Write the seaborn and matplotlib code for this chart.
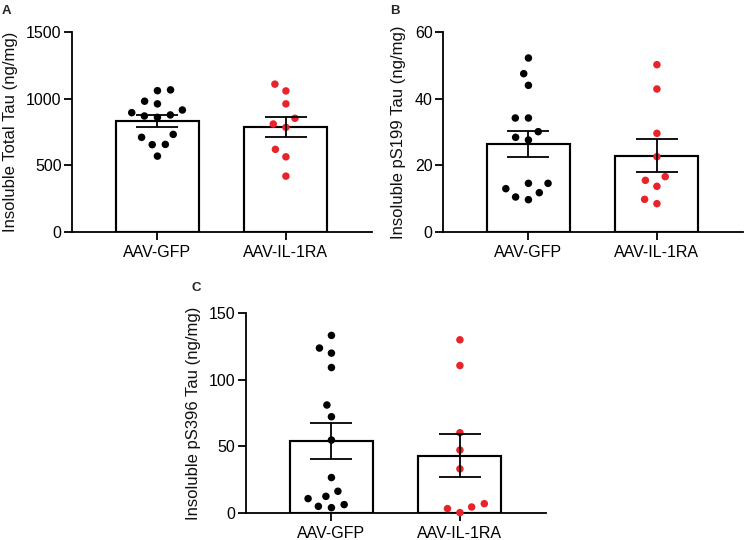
import matplotlib
matplotlib.use("Agg")
import matplotlib.pyplot as plt
import seaborn as sns
import pandas as pd

# ---------------- data ----------------
groups = ["AAV-GFP", "AAV-IL-1RA"]

total_gfp = [870, 915, 1066, 1060, 961, 981, 895, 878, 860, 710, 732, 655, 657, 569]
total_il = [1109, 1058, 961, 853, 810, 785, 620, 564, 419]
total_mean = [835, 788]
total_sem = [44, 78]

ps199_gfp = [52.2, 47.5, 44.0, 34.2, 34.2, 30.1, 28.4, 27.6, 14.6, 14.6, 13.0, 11.8, 10.5, 9.7]
ps199_il = [50.2, 42.9, 29.6, 22.6, 16.6, 13.7, 15.5, 9.8, 8.5]
ps199_mean = [26.3, 22.9]
ps199_sem = [3.9, 5.0]

ps396_gfp = [133.2, 119.9, 123.7, 109.1, 81.0, 72.2, 54.7, 26.6, 16.3, 10.8, 12.5, 6.3, 4.0, 5.0]
ps396_il = [129.9, 110.6, 60.2, 47.2, 33.1, 7.0, 0.3, 4.5, 3.3]
ps396_mean = [54.2, 42.9]
ps396_sem = [13.4, 16.2]

ylabels = ["Insoluble Total Tau (ng/mg)",
           "Insoluble pS199 Tau (ng/mg)",
           "Insoluble pS396 Tau (ng/mg)"]
yticks = [[0, 500, 1000, 1500], [0, 20, 40, 60], [0, 50, 100, 150]]
letters = ["A", "B", "C"]

RED = "#E8242B"
palette = {groups[0]: "black", groups[1]: RED}

sns.set_theme(style="ticks")
plt.rcParams["font.family"] = ["Liberation Sans", "DejaVu Sans"]

fig = plt.figure(figsize=(7.45, 5.40), dpi=100)
W, H = 745.0, 540.0

def axes_px(left, top, right, bottom):
    return fig.add_axes([left / W, 1 - bottom / H, (right - left) / W, (bottom - top) / H])

ax_a = axes_px(72, 32, 372, 232)
ax_b = axes_px(443, 32, 743, 232)
ax_c = axes_px(246, 313, 546, 513)

panels = [
    (ax_a, total_gfp, total_il, total_mean, total_sem),
    (ax_b, ps199_gfp, ps199_il, ps199_mean, ps199_sem),
    (ax_c, ps396_gfp, ps396_il, ps396_mean, ps396_sem),
]

LW = 1.3
DOT = 5.4
swarm_colls = []
for i, (ax, g, il, means, sems) in enumerate(panels):
    df = pd.DataFrame({"group": [groups[0]] * len(g) + [groups[1]] * len(il),
                       "value": list(g) + list(il)})
    sns.barplot(x=groups, y=means, order=groups, ax=ax, width=0.645,
                color="white", edgecolor="black", linewidth=1.55, zorder=1)
    n_before = len(ax.collections)
    # swarm laid out with GraphPad-like wider spacing; dots shrunk afterwards
    sns.swarmplot(data=df, x="group", y="value", hue="group", order=groups,
                  palette=palette, size=9.0, linewidth=0, legend=False, ax=ax,
                  zorder=3)
    swarm_colls.extend(ax.collections[n_before:])
    ax.errorbar(x=[0, 1], y=means, yerr=sems, fmt="none", ecolor="black",
                elinewidth=LW, capsize=15.0, capthick=LW, zorder=4)
    ax.set_xlim(-0.665, 1.67)
    ax.set_ylim(yticks[i][0], yticks[i][-1])
    ax.set_yticks(yticks[i])
    ax.set_xlabel("")
    ax.set_ylabel(ylabels[i], fontsize=12, labelpad=6, color="#111111")
    sns.despine(ax=ax)
    for s in ["left", "bottom"]:
        ax.spines[s].set_linewidth(LW)
        ax.spines[s].set_color("black")
    ax.tick_params(axis="y", length=6, width=LW, pad=1.5, labelsize=11.5, colors="black")
    ax.tick_params(axis="x", length=6, width=LW, pad=3.5, labelsize=11.5, colors="black")

fig.text(2 / W, 1 - 14 / H, letters[0], fontsize=9.5, fontweight="bold")
fig.text(390 / W, 1 - 14 / H, letters[1], fontsize=9.5, fontweight="bold")
fig.text(191 / W, 1 - 291 / H, letters[2], fontsize=9.5, fontweight="bold")

# first draw runs seaborn's beeswarm with the wider spacing
fig.canvas.draw()
for c in swarm_colls:
    if "draw" in c.__dict__:
        del c.__dict__["draw"]
    c.set_sizes([DOT ** 2])
    c.set_clip_on(False)

fig.savefig("out.png", dpi=100)
